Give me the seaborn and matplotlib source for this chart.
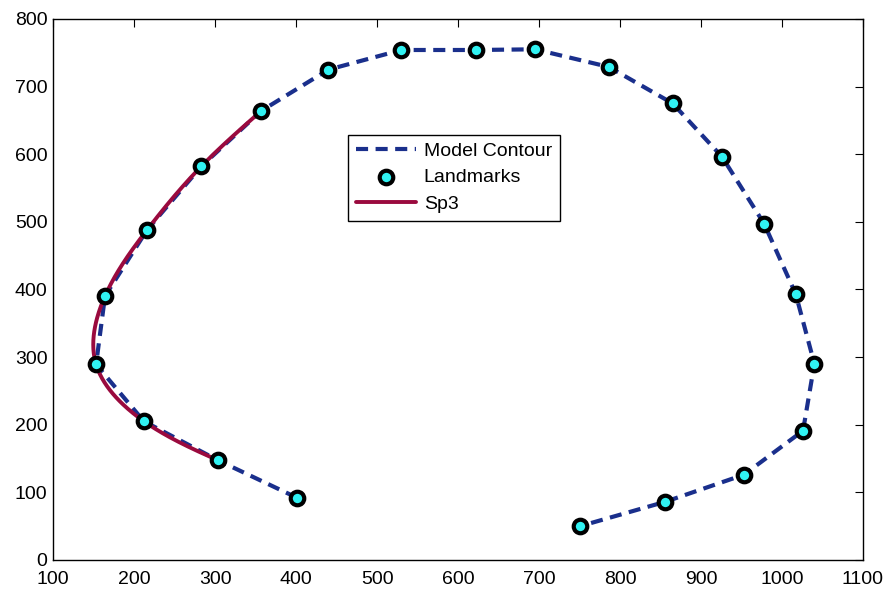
import numpy as np
import pandas as pd
import matplotlib
matplotlib.use("Agg")
import matplotlib.pyplot as plt
import seaborn as sns

# Landmark coordinates
lm_x = [401, 304, 212, 153, 164, 216, 283, 357, 440, 530, 622, 695, 786, 865,
        926, 978, 1017, 1040, 1026, 953, 856, 751]
lm_y = [92, 147, 205, 289, 390, 488, 582, 664, 725, 754, 754, 755, 729, 675,
        596, 497, 393, 290, 191, 126, 86, 50]
# Sp3 spline uses landmarks index 1..7
sp_start, sp_end = 1, 7

x_ticks = [100, 200, 300, 400, 500, 600, 700, 800, 900, 1000, 1100]
y_ticks = [0, 100, 200, 300, 400, 500, 600, 700, 800]

sns.set_theme(style="white")
plt.rcParams['font.family'] = ['Liberation Sans', 'DejaVu Sans']
plt.rcParams['text.color'] = 'black'
plt.rcParams['axes.labelcolor'] = 'black'


def natural_spline(t, y, tt):
    n = len(t)
    h = np.diff(t)
    A = np.zeros((n, n))
    b = np.zeros(n)
    A[0, 0] = 1
    A[-1, -1] = 1
    for i in range(1, n - 1):
        A[i, i - 1] = h[i - 1]
        A[i, i] = 2 * (h[i - 1] + h[i])
        A[i, i + 1] = h[i]
        b[i] = 3 * ((y[i + 1] - y[i]) / h[i] - (y[i] - y[i - 1]) / h[i - 1])
    c = np.linalg.solve(A, b)
    out = np.empty_like(tt)
    for k, v in enumerate(tt):
        i = min(np.searchsorted(t, v, side='right') - 1, n - 2)
        i = max(i, 0)
        dx = v - t[i]
        bi = (y[i + 1] - y[i]) / h[i] - h[i] * (2 * c[i] + c[i + 1]) / 3
        di = (c[i + 1] - c[i]) / (3 * h[i])
        out[k] = y[i] + bi * dx + c[i] * dx ** 2 + di * dx ** 3
    return out


px = np.array(lm_x[sp_start:sp_end + 1], float)
py = np.array(lm_y[sp_start:sp_end + 1], float)
t = np.concatenate([[0], np.cumsum(np.sqrt(np.diff(px) ** 2 + np.diff(py) ** 2))])
tt = np.linspace(0, t[-1], 300)
sx = natural_spline(t, px, tt)
sy = natural_spline(t, py, tt)

df = pd.DataFrame({"x": lm_x, "y": lm_y})
sp = pd.DataFrame({"x": sx, "y": sy})

fig, ax = plt.subplots(figsize=(8.86, 5.90), dpi=100)
fig.subplots_adjust(left=0.060, right=0.974, top=0.968, bottom=0.051)

navy = '#1a2f8c'
crimson = '#9a0a3e'

sns.lineplot(data=df, x="x", y="y", sort=False, ax=ax, color=navy,
             linewidth=3.0, label="Model Contour", estimator=None)
ax.lines[-1].set_dashes([2.9, 1.8])
sns.scatterplot(data=df, x="x", y="y", ax=ax, color='#30f2f2', edgecolor='black',
                linewidth=3.0, s=95, label="Landmarks", zorder=5)
sns.lineplot(data=sp, x="x", y="y", sort=False, ax=ax, color=crimson,
             linewidth=2.8, label="Sp3", estimator=None, zorder=4)

ax.set_xlim(100, 1100)
ax.set_ylim(0, 800)
ax.set_xticks(x_ticks)
ax.set_yticks(y_ticks)
ax.set_xlabel("")
ax.set_ylabel("")
ax.tick_params(direction='in', length=6, width=0.8, top=True, right=True,
               labelsize=14, colors='black')
ax.tick_params(axis='x', pad=8)
ax.tick_params(axis='y', pad=4)
for s in ax.spines.values():
    s.set_color('black')
    s.set_linewidth(1.0)

leg = ax.legend(loc='upper left', bbox_to_anchor=(0.364, 0.786), fontsize=14,
                frameon=True, fancybox=False, framealpha=1, edgecolor='black',
                borderpad=0.4, labelspacing=0.45, handlelength=3.1,
                handletextpad=0.4, borderaxespad=0)
leg.get_frame().set_linewidth(1.0)
for txt in leg.get_texts():
    txt.set_color('black')

fig.savefig("out.png", dpi=100)
